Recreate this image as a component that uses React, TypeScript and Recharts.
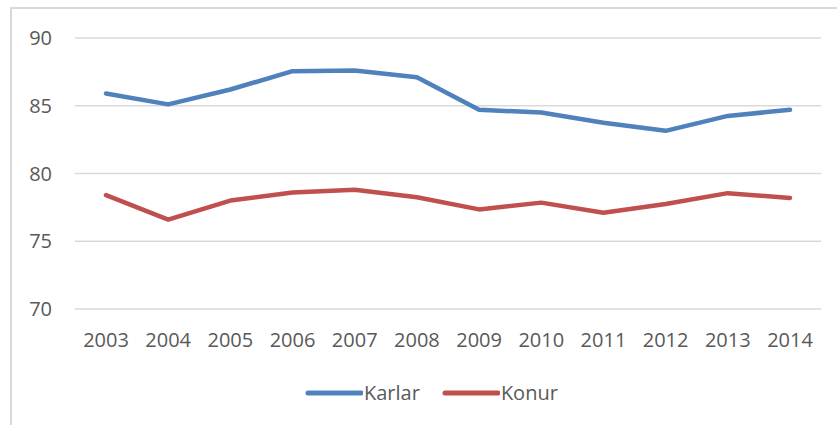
import { CartesianGrid, Legend, Line, LineChart, XAxis, YAxis } from "recharts";

const KARLAR_COLOR = "#4f81bd";
const KONUR_COLOR = "#c0504d";
const TEXT_COLOR = "#595959";
const GRID_COLOR = "#d9d9d9";
const FONT = "'Open Sans', 'Liberation Sans', sans-serif";

const years = ["2003", "2004", "2005", "2006", "2007", "2008", "2009", "2010", "2011", "2012", "2013", "2014"];
const karlar = [85.9, 85.1, 86.2, 87.55, 87.6, 87.1, 84.7, 84.5, 83.75, 83.15, 84.25, 84.7];
const konur = [78.4, 76.6, 78.0, 78.6, 78.8, 78.25, 77.35, 77.85, 77.1, 77.75, 78.55, 78.2];
const yTicks = [70, 75, 80, 85, 90];

const data = years.map((year, i) => ({ year, Karlar: karlar[i], Konur: konur[i] }));

function LegendContent() {
  const items = [
    { name: "Karlar", color: KARLAR_COLOR },
    { name: "Konur", color: KONUR_COLOR },
  ];
  return (
    <div style={{ display: "flex", paddingLeft: 305, fontFamily: FONT, fontSize: 20, color: TEXT_COLOR }}>
      {items.map((item, i) => (
        <div key={item.name} style={{ display: "flex", alignItems: "center", marginRight: i === 0 ? 22 : 0 }}>
          <svg width={58} height={10}>
            <line x1={3} y1={5} x2={56} y2={5} stroke={item.color} strokeWidth={5} strokeLinecap="round" />
          </svg>
          <span style={{ marginLeft: 1, lineHeight: "26px" }}>{item.name}</span>
        </div>
      ))}
    </div>
  );
}

export default function App() {
  return (
    <div style={{ position: "absolute", left: 0, top: 0, width: 837, height: 425, background: "#fff", overflow: "hidden" }}>
      <div
        style={{
          position: "absolute",
          left: 10,
          top: 7,
          width: 840,
          height: 430,
          borderLeft: `2px solid ${GRID_COLOR}`,
          borderTop: `2px solid ${GRID_COLOR}`,
        }}
      />
      <LineChart
        width={837}
        height={425}
        data={data}
        margin={{ top: 38, right: 16, bottom: 0, left: 0 }}
        style={{ position: "absolute", left: 0, top: 0 }}
      >
        <CartesianGrid vertical={false} stroke={GRID_COLOR} strokeWidth={1.5} />
        <XAxis
          dataKey="year"
          height={116}
          axisLine={false}
          tickLine={false}
          tickSize={0}
          tickMargin={24}
          padding={{ left: 31, right: 31 }}
          interval={0}
          tick={{ fill: TEXT_COLOR, fontSize: 20, fontFamily: FONT }}
        />
        <YAxis
          width={75}
          domain={[70, 90]}
          ticks={yTicks}
          axisLine={false}
          tickLine={false}
          tickSize={0}
          tickMargin={23}
          tick={{ fill: TEXT_COLOR, fontSize: 20, fontFamily: FONT }}
        />
        <Line
          dataKey="Karlar"
          stroke={KARLAR_COLOR}
          strokeWidth={4.5}
          strokeLinecap="round"
          strokeLinejoin="round"
          dot={false}
          activeDot={false}
          isAnimationActive={false}
        />
        <Line
          dataKey="Konur"
          stroke={KONUR_COLOR}
          strokeWidth={4.5}
          strokeLinecap="round"
          strokeLinejoin="round"
          dot={false}
          activeDot={false}
          isAnimationActive={false}
        />
        <Legend
          layout="horizontal"
          verticalAlign="middle"
          align="center"
          content={<LegendContent />}
          wrapperStyle={{ top: 380, left: 0, width: 837 }}
        />
      </LineChart>
    </div>
  );
}
